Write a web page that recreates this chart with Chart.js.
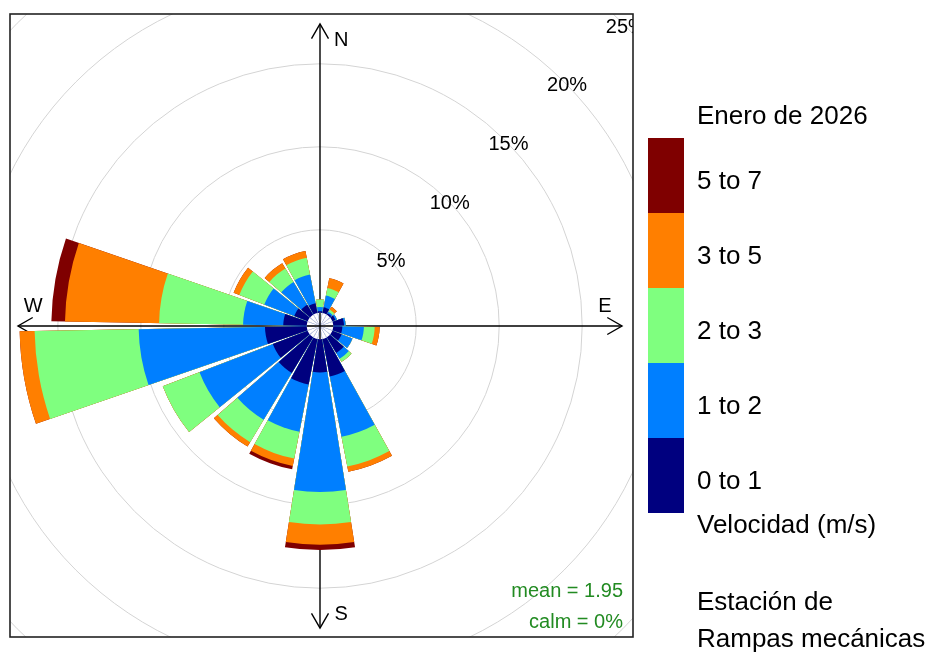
<!DOCTYPE html>
<html>
<head>
<meta charset="utf-8">
<title>Rosa de vientos - Enero de 2026</title>
<script src="https://cdn.jsdelivr.net/npm/chart.js@4.4.1/dist/chart.umd.min.js"></script>
<style>
  html, body { margin: 0; padding: 0; background: #fff; }
  #wrap { position: relative; width: 929px; height: 652px; }
</style>
</head>
<body>
<div id="wrap"><canvas id="rose" width="929" height="652"></canvas></div>
<script>
/* ═══════════════════════════════════════════════
   Rosa de vientos — Estación de Rampas mecánicas
═══════════════════════════════════════════════ */

// direcciones (grados, centro de cada pétalo)
const directions = [0, 20, 40, 60, 80, 100, 120, 140, 160, 180, 200, 220, 240, 260, 280, 300, 320, 340];

// frecuencia (%) por dirección, una serie por rango de velocidad
const freq0to1 = [0.10, 0.35, 0.10, 0.20, 0.65, 0.55, 0.60, 1.10, 2.30, 2.00, 2.80, 2.50, 2.25, 2.52, 1.42, 0.87, 0.70, 0.60];
const freq1to2 = [0.25, 0.72, 0.10, 0.10, 0.10, 1.30, 0.70, 0.40, 3.70, 7.20, 2.90, 3.30, 4.73, 7.61, 2.42, 1.93, 1.60, 1.76];
const freq2to3 = [0.45, 0.46, 0.15, 0.00, 0.00, 0.65, 0.00, 0.22, 1.82, 1.96, 1.64, 1.57, 2.37, 6.27, 5.06, 1.61, 0.95, 1.03];
const freq3to5 = [0.00, 0.60, 0.20, 0.00, 0.00, 0.30, 0.00, 0.00, 0.33, 1.22, 0.45, 0.31, 0.00, 0.90, 5.67, 0.37, 0.37, 0.41];
const freq5to7 = [0.00, 0.00, 0.00, 0.00, 0.00, 0.00, 0.00, 0.00, 0.00, 0.32, 0.21, 0.00, 0.00, 0.00, 0.82, 0.00, 0.00, 0.00];

const speedBands = ['0 to 1', '1 to 2', '2 to 3', '3 to 5', '5 to 7'];
const bandColors = ['#00007F', '#007FFF', '#7FFF7F', '#FF7F00', '#7F0000'];

const ringTicks = [5, 10, 15, 20, 25];
const compass = ['N', 'E', 'S', 'W'];
const meanSpeed = 1.95;
const calmPct = 0;

const legendTitle = 'Enero de 2026';
const legendUnits = 'Velocidad (m/s)';
const stationLines = ['Estación de', 'Rampas mecánicas'];

// geometría
const CX = 320, CY = 326;
const PX_PER_PCT = 16.6, HOLE_PX = 13.2;
const R_MAX = 25, R_MIN = -HOLE_PX / PX_PER_PCT;
const PETAL_DEG = 18, GAP_DEG = 2;
const AXIS_PX = 302;
const BOX = { left: 10, top: 14, right: 633, bottom: 637 };
const LEG = { x: 648, top: 138, w: 36, segH: 75, textX: 697 };
const FONT = "'Liberation Sans', Arial, sans-serif";

// acumulado por rango (cada pétalo se apila)
const bands = [freq0to1, freq1to2, freq2to3, freq3to5, freq5to7];
const cumulative = bands.map((_, k) =>
  directions.map((d, i) => bands.slice(0, k + 1).reduce((a, b) => a + b[i], 0)));

// cada dirección = pétalo + hueco
const spread = vals => vals.flatMap(v => [v, null]);
const labels = directions.flatMap(d => [d + '°', '']);
const arcAngle = ctx => (ctx.dataIndex % 2 ? GAP_DEG : PETAL_DEG);

const datasets = [
  // centro vacío
  { label: 'centro', data: directions.flatMap(() => [0, 0]), backgroundColor: '#fff', borderWidth: 0, angle: arcAngle },
  ...cumulative.map((c, k) => ({
    label: speedBands[k],
    data: spread(c),
    backgroundColor: ctx => (ctx.dataIndex % 2 ? 'rgba(0,0,0,0)' : bandColors[k]),
    borderWidth: 0,
    angle: arcAngle
  }))
];

function arrowHead(ctx, x, y, ang) {
  const len = 17, spread = Math.PI / 6;
  ctx.beginPath();
  ctx.moveTo(x - len * Math.cos(ang - spread), y - len * Math.sin(ang - spread));
  ctx.lineTo(x, y);
  ctx.lineTo(x - len * Math.cos(ang + spread), y - len * Math.sin(ang + spread));
  ctx.stroke();
}

function drawAxes(ctx, r) {
  const x = r.xCenter, y = r.yCenter;
  ctx.save();
  ctx.strokeStyle = '#000';
  ctx.lineWidth = 1.4;
  ctx.beginPath();
  ctx.moveTo(x, y - AXIS_PX); ctx.lineTo(x, y + AXIS_PX);
  ctx.moveTo(x - AXIS_PX, y); ctx.lineTo(x + AXIS_PX, y);
  ctx.stroke();
  arrowHead(ctx, x, y - AXIS_PX, -Math.PI / 2);
  arrowHead(ctx, x, y + AXIS_PX, Math.PI / 2);
  arrowHead(ctx, x + AXIS_PX, y, 0);
  arrowHead(ctx, x - AXIS_PX, y, Math.PI);
  ctx.restore();
}

const roseFrame = {
  id: 'roseFrame',
  beforeDraw(chart) {
    const ctx = chart.ctx;
    ctx.save();
    ctx.beginPath();
    ctx.rect(BOX.left, BOX.top, BOX.right - BOX.left, BOX.bottom - BOX.top);
    ctx.clip();
  },
  beforeDatasetsDraw(chart) {
    drawAxes(chart.ctx, chart.scales.r);
  },
  afterDatasetsDraw(chart) {
    const ctx = chart.ctx, r = chart.scales.r;
    const x = r.xCenter, y = r.yCenter;
    const h = r.getDistanceFromCenterForValue(0);

    // cruz visible en el centro vacío
    ctx.save();
    ctx.strokeStyle = '#000';
    ctx.lineWidth = 1.4;
    ctx.beginPath();
    ctx.moveTo(x - h, y); ctx.lineTo(x + h, y);
    ctx.moveTo(x, y - h); ctx.lineTo(x, y + h);
    ctx.stroke();

    ctx.font = '20px ' + FONT;
    ctx.fillStyle = '#000';
    ctx.textAlign = 'center';
    ctx.textBaseline = 'middle';
    ringTicks.forEach(v => {
      const d = r.getDistanceFromCenterForValue(v);
      ctx.fillText(v + '%', x + d * Math.SQRT1_2 + 3, y - d * Math.SQRT1_2 + 4);
    });

    // N E S W
    const along = AXIS_PX * 0.95, side = AXIS_PX * 0.07;
    const pos = { N: [side, -along + 1], E: [along - 2, -side + 2], S: [side, along + 2], W: [-along, -side + 2] };
    compass.forEach(c => ctx.fillText(c, x + pos[c][0], y + pos[c][1]));

    ctx.fillStyle = '#228B22';
    ctx.textAlign = 'right';
    ctx.textBaseline = 'alphabetic';
    ctx.fillText('mean = ' + meanSpeed.toFixed(2), BOX.right - 10, 597);
    ctx.fillText('calm = ' + calmPct + '%', BOX.right - 10, 628);
    ctx.restore();
  },
  afterDraw(chart) {
    const ctx = chart.ctx;
    ctx.restore();

    ctx.save();
    ctx.strokeStyle = '#222';
    ctx.lineWidth = 1.6;
    ctx.strokeRect(BOX.left, BOX.top, BOX.right - BOX.left, BOX.bottom - BOX.top);

    // leyenda de velocidad
    ctx.font = '26px ' + FONT;
    ctx.fillStyle = '#000';
    ctx.textAlign = 'left';
    ctx.textBaseline = 'alphabetic';
    ctx.fillText(legendTitle, LEG.textX, 124);
    const order = speedBands.map((_, k) => k).reverse();
    order.forEach((k, j) => {
      const top = LEG.top + j * LEG.segH;
      ctx.fillStyle = bandColors[k];
      ctx.fillRect(LEG.x, top, LEG.w, LEG.segH);
      ctx.fillStyle = '#000';
      ctx.fillText(speedBands[k], LEG.textX, top + 51);
    });
    ctx.fillText(legendUnits, LEG.textX, 533);
    ctx.fillText(stationLines[0], LEG.textX, 610);
    ctx.fillText(stationLines[1], LEG.textX, 647);
    ctx.restore();
  }
};

new Chart(document.getElementById('rose'), {
  type: 'polarArea',
  data: { labels, datasets },
  options: {
    responsive: false,
    animation: false,
    events: [],
    layout: { padding: 0 },
    plugins: { legend: { display: false }, tooltip: { enabled: false } },
    scales: {
      r: {
        min: R_MIN,
        max: R_MAX,
        startAngle: -PETAL_DEG / 2,
        ticks: { display: false },
        grid: { circular: true, color: '#d4d4d4', lineWidth: 1 },
        angleLines: { display: false },
        pointLabels: { display: false },
        afterBuildTicks: s => { s.ticks = [R_MIN, ...ringTicks].map(v => ({ value: v })); },
        afterFit: s => {
          s.xCenter = CX;
          s.yCenter = CY;
          s.drawingArea = (R_MAX - R_MIN) * PX_PER_PCT;
        }
      }
    }
  },
  plugins: [roseFrame]
});
</script>
</body>
</html>
